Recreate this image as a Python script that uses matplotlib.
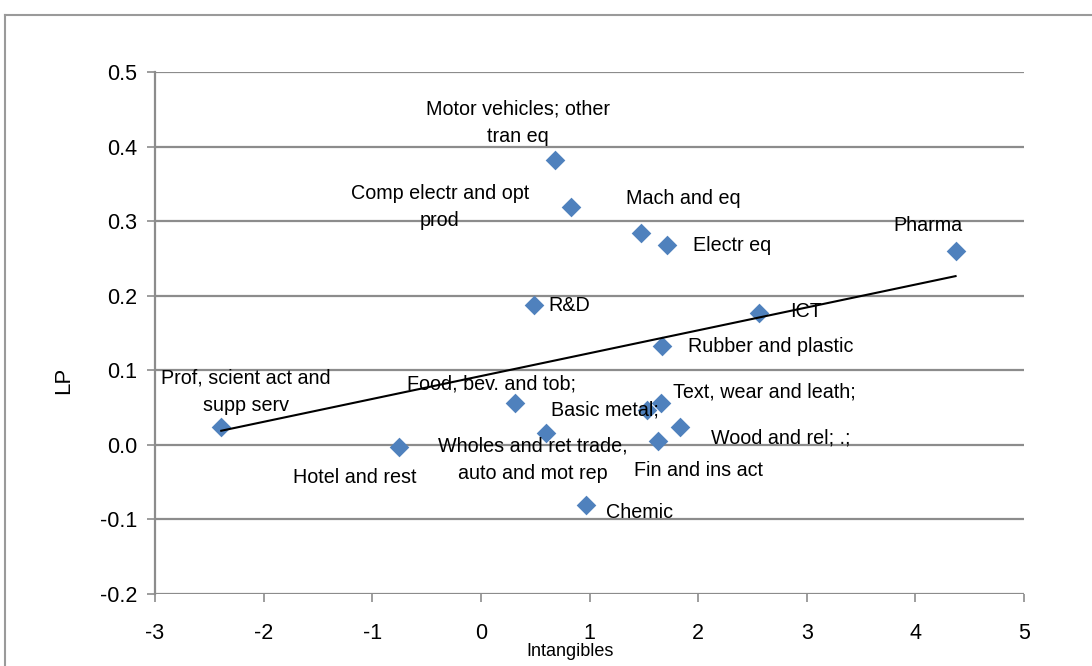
import matplotlib
matplotlib.use("Agg")
import matplotlib.pyplot as plt
from matplotlib.lines import Line2D
import numpy as np

plt.rcParams["axes.unicode_minus"] = False
plt.rcParams["font.family"] = "Liberation Sans"

# sector data: intangibles growth vs labour productivity
sectors = [
    "Motor vehicles; other\ntran eq", "Comp electr and opt\nprod", "Mach and eq",
    "Electr eq", "Pharma", "R&D", "ICT", "Rubber and plastic",
    "Prof, scient act and\nsupp serv", "Food, bev. and tob;", "Basic metal;",
    "Text, wear and leath;", "Wood and rel; .;", "Fin and ins act",
    "Wholes and ret trade,\nauto and mot rep", "Hotel and rest", "Chemic",
]
intangibles = [0.68, 0.83, 1.47, 1.71, 4.37, 0.49, 2.56, 1.67,
               -2.39, 0.31, 1.53, 1.66, 1.83, 1.63, 0.60, -0.75, 0.97]
lp = [0.382, 0.319, 0.284, 0.268, 0.260, 0.188, 0.177, 0.133,
      0.024, 0.056, 0.047, 0.056, 0.024, 0.005, 0.016, -0.003, -0.080]

# label offsets in pixels (dx, dy) and horizontal alignment
label_pos = [
    (-37, 37, "center"), (-131, 0, "center"), (43, 35, "center"),
    (26, 0, "left"), (-28, 25, "center"), (14, -1, "left"),
    (31, 1, "left"), (26, -1, "left"), (25, 35, "center"),
    (-23, 19, "center"), (12, 0, "right"), (12, 11, "left"),
    (31, -11, "left"), (-24, -29, "left"), (-13, -27, "center"),
    (-45, -30, "center"), (20, -8, "left"),
]

fig = plt.figure(figsize=(10.92, 6.66), dpi=100)
ax = fig.add_axes([155 / 1092, 1 - 594 / 666, 869 / 1092, 522 / 666])

grid_col = "#8c8c8c"
for yv in np.arange(-0.2, 0.51, 0.1):
    ax.axhline(yv, color=grid_col, lw=1.6, zorder=0)

ax.scatter(intangibles, lp, marker="D", s=100, color="#4F81BD", zorder=3, linewidths=0)

# linear trend
k, b = np.polyfit(intangibles, lp, 1)
xs = np.array([min(intangibles), max(intangibles)])
ax.plot(xs, k * xs + b, color="black", lw=1.5, zorder=4)

for name, x, y, (dx, dy, ha) in zip(sectors, intangibles, lp, label_pos):
    ax.annotate(name, (x, y), xytext=(dx, dy), textcoords="offset pixels",
                ha=ha, va="center", fontsize=14.2, linespacing=1.55,
                multialignment="center", zorder=5)

ax.set_xlim(-3, 5)
ax.set_ylim(-0.2, 0.5)
ax.set_xticks(range(-3, 6))
ax.set_yticks(np.round(np.arange(-0.2, 0.51, 0.1), 1))
ax.set_yticklabels([f"{v:.1f}" for v in np.arange(-0.2, 0.51, 0.1)])
for s in ["top", "right", "bottom"]:
    ax.spines[s].set_visible(False)
ax.spines["left"].set_color(grid_col)
ax.spines["left"].set_linewidth(1.6)
ax.tick_params(axis="both", colors=grid_col, length=6, width=1.2, labelcolor="black",
               labelsize=15.5)
ax.tick_params(axis="x", pad=15)
ax.tick_params(axis="y", pad=7)
ax.set_xlabel("Intangibles", fontsize=13)
ax.xaxis.set_label_coords(0.478, -0.093)
ax.set_ylabel("LP", fontsize=16)
ax.yaxis.set_label_coords(-0.093, 0.41)

# outer frame (left and top edges)
fig.add_artist(Line2D([5 / 1092, 5 / 1092], [0, 1 - 15 / 666], color="#9a9a9a", lw=1.5))
fig.add_artist(Line2D([5 / 1092, 1], [1 - 15 / 666, 1 - 15 / 666], color="#9a9a9a", lw=1.5))

fig.savefig("out.png", dpi=100)
